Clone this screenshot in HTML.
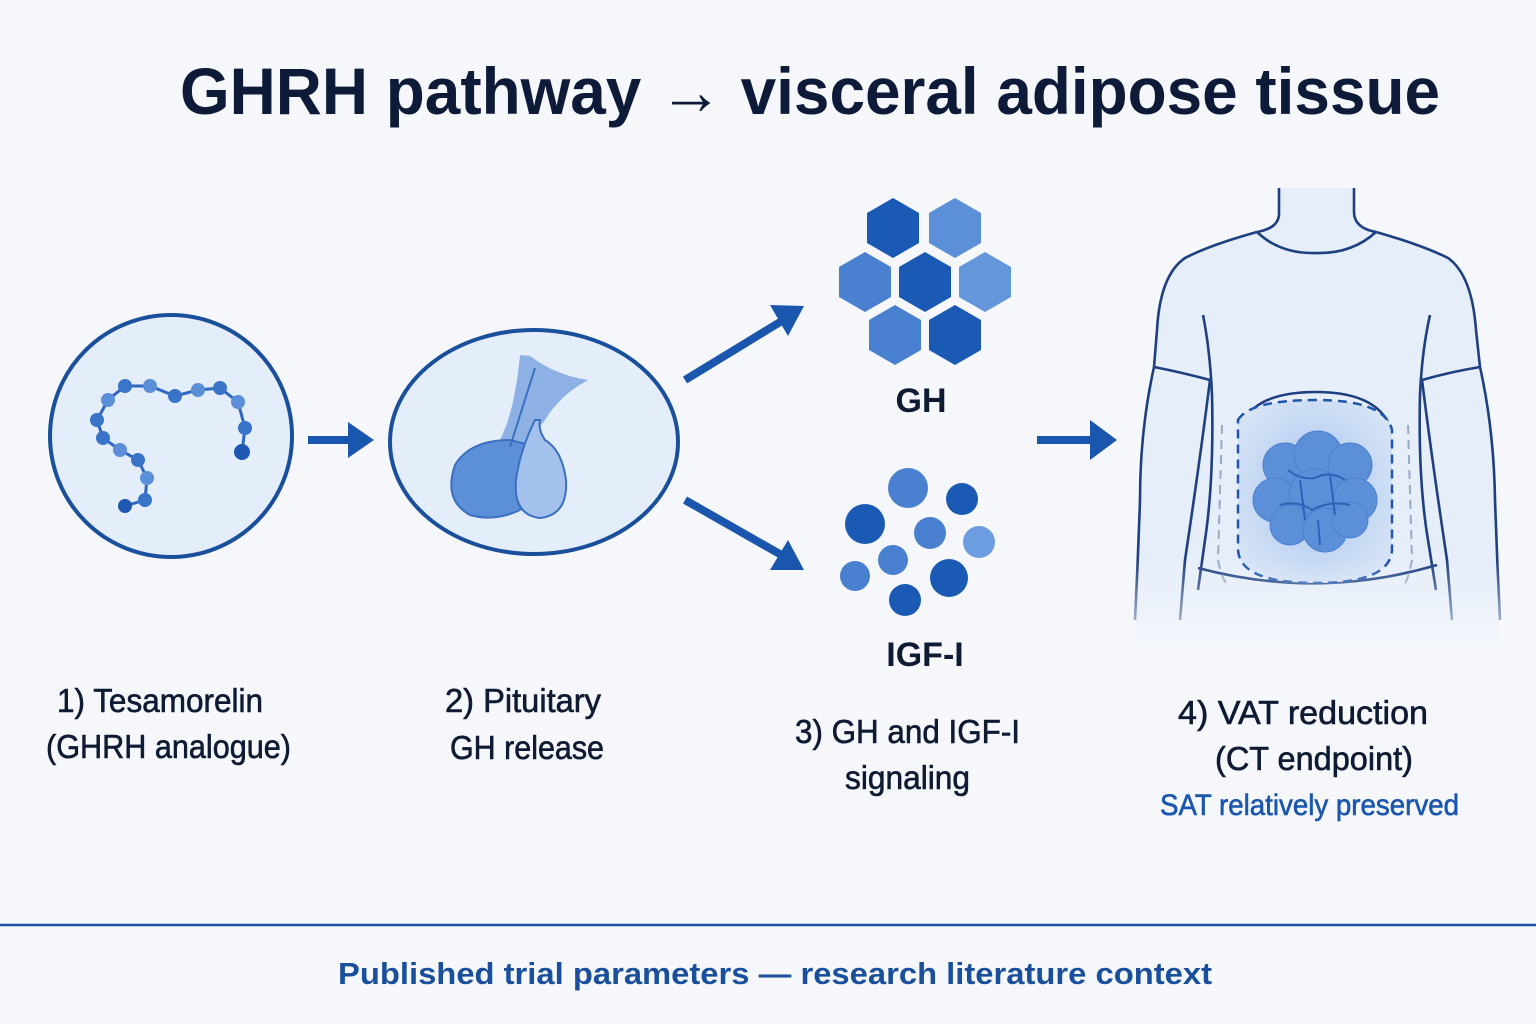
<!DOCTYPE html>
<html><head><meta charset="utf-8"><style>
html,body{margin:0;padding:0;background:#f5f7fb;}
svg{display:block}
.t{font-family:"Liberation Sans",sans-serif;fill:#0f1a33;stroke:#0f1a33;stroke-width:0.6;}
</style></head><body>
<svg width="1536" height="1024" viewBox="0 0 1536 1024" xmlns="http://www.w3.org/2000/svg">
<defs>
<radialGradient id="fat" cx="50%" cy="50%" r="60%"><stop offset="0" stop-color="#a9c4ee"/><stop offset="1" stop-color="#d7e4f7"/></radialGradient>
<linearGradient id="fade" x1="0" y1="0" x2="0" y2="1"><stop offset="0" stop-color="#f5f7fb" stop-opacity="0"/><stop offset="1" stop-color="#f5f7fb" stop-opacity="1"/></linearGradient>
</defs>
<rect width="1536" height="1024" fill="#f5f7fb"/>
<text x="180" y="114" textLength="1260" lengthAdjust="spacingAndGlyphs" font-family="Liberation Sans,sans-serif" font-weight="bold" font-size="66" fill="#0d1a38">GHRH pathway → visceral adipose tissue</text>

<!-- circle 1 -->
<circle cx="171" cy="436" r="121" fill="#e4edfa" stroke="#1a4f9c" stroke-width="4"/>
<polyline points="125,506 145,500 147,478 138,460 120,450 103,438 97,420 108,400 125,386 150,386 175,396 198,390 220,388 238,402 245,428 242,452" fill="none" stroke="#2f68c0" stroke-width="3"/>
<g fill="#3a74c8">
<circle cx="125" cy="506" r="7" fill="#1f58b0"/><circle cx="145" cy="500" r="7"/><circle cx="147" cy="478" r="7" fill="#5b8fd8"/><circle cx="138" cy="460" r="7"/><circle cx="120" cy="450" r="7" fill="#5b8fd8"/><circle cx="103" cy="438" r="7"/><circle cx="97" cy="420" r="7"/><circle cx="108" cy="400" r="7" fill="#5b8fd8"/><circle cx="125" cy="386" r="7"/><circle cx="150" cy="386" r="7" fill="#5b8fd8"/><circle cx="175" cy="396" r="7"/><circle cx="198" cy="390" r="7" fill="#5b8fd8"/><circle cx="220" cy="388" r="7"/><circle cx="238" cy="402" r="7" fill="#5b8fd8"/><circle cx="245" cy="428" r="7"/><circle cx="242" cy="452" r="8" fill="#1f58b0"/>
</g>

<line x1="308" y1="440" x2="352" y2="440" stroke="#1a56ad" stroke-width="8"/>
<polygon points="348,422 374,440 348,458" fill="#1a56ad"/>

<ellipse cx="534" cy="442" rx="144" ry="112" fill="#e4edfa" stroke="#1a4f9c" stroke-width="4"/>
<path d="M520,355 L530,356 Q555,375 588,380 Q560,395 545,420 L525,445 L500,440 Q515,410 520,355Z" fill="#7ea6e0" opacity="0.85"/>
<path d="M510,440 Q470,440 455,465 Q443,500 470,515 Q495,522 520,510 L530,445Z" fill="#5b8fd8" stroke="#3a70c0" stroke-width="2"/>
<path d="M535,420 Q520,450 516,480 Q513,515 540,518 Q568,515 566,480 Q562,450 545,440 Q538,430 540,420Z" fill="#a3c1ec" stroke="#3a70c0" stroke-width="2"/>
<line x1="535" y1="368" x2="510" y2="447" stroke="#3a70c0" stroke-width="2"/>

<line x1="685" y1="380" x2="785" y2="319" stroke="#1a56ad" stroke-width="8"/>
<polygon points="770,305 804,306 788,336" fill="#1a56ad"/>
<line x1="685" y1="500" x2="785" y2="557" stroke="#1a56ad" stroke-width="8"/>
<polygon points="788,540 804,570 770,570" fill="#1a56ad"/>

<g>
<polygon points="893,198 919,213 919,243 893,258 867,243 867,213" fill="#1a5ab5"/>
<polygon points="955,198 981,213 981,243 955,258 929,243 929,213" fill="#5b8fd8"/>
<polygon points="865,252 891,267 891,297 865,312 839,297 839,267" fill="#4a80d0"/>
<polygon points="925,252 951,267 951,297 925,312 899,297 899,267" fill="#1a5ab5"/>
<polygon points="985,252 1011,267 1011,297 985,312 959,297 959,267" fill="#6396da"/>
<polygon points="895,305 921,320 921,350 895,365 869,350 869,320" fill="#4a80d0"/>
<polygon points="955,305 981,320 981,350 955,365 929,350 929,320" fill="#1a5ab5"/>
</g>
<text x="921" y="412" text-anchor="middle" font-family="Liberation Sans,sans-serif" font-weight="bold" font-size="34" fill="#0f1a33">GH</text>

<circle cx="908" cy="488" r="20" fill="#4a80d0"/><circle cx="962" cy="499" r="16" fill="#1a5ab5"/>
<circle cx="865" cy="524" r="20" fill="#1a5ab5"/><circle cx="930" cy="533" r="16" fill="#4a80d0"/>
<circle cx="979" cy="542" r="16" fill="#6b9de0"/><circle cx="893" cy="560" r="15" fill="#4a80d0"/>
<circle cx="855" cy="576" r="15" fill="#4a80d0"/><circle cx="949" cy="578" r="19" fill="#1a5ab5"/>
<circle cx="905" cy="600" r="16" fill="#1a5ab5"/>
<text x="925" y="666" text-anchor="middle" font-family="Liberation Sans,sans-serif" font-weight="bold" font-size="34" fill="#0f1a33">IGF-I</text>

<line x1="1037" y1="440" x2="1094" y2="440" stroke="#1a56ad" stroke-width="8"/>
<polygon points="1090,420 1117,440 1090,460" fill="#1a56ad"/>

<path d="M1279,188 L1279,212 Q1280,228 1257,232 Q1210,245 1185,258 Q1160,275 1157,330 L1154,367 Q1145,420 1140,500 L1135,650 L1500,650 L1497,500 Q1490,420 1480,367 L1476,330 Q1472,275 1448,258 Q1422,245 1376,232 Q1354,228 1354,212 L1354,188" fill="#e6eefa" stroke="none"/>
<g fill="none" stroke="#1e3f80" stroke-width="2.6">
<path d="M1279,188 L1279,212 Q1280,228 1257,232"/>
<path d="M1354,188 L1354,212 Q1354,228 1376,232"/>
<path d="M1257,232 Q1280,254 1316,253 Q1352,254 1376,232"/>
<path d="M1257,232 Q1210,245 1185,258 Q1160,275 1157,330 L1154,367"/>
<path d="M1376,232 Q1422,245 1448,258 Q1472,275 1476,330 L1480,367"/>
<path d="M1154,367 Q1180,372 1210,380"/>
<path d="M1422,380 Q1450,372 1480,367"/>
<path d="M1203,315 Q1210,350 1212,395 Q1214,480 1205,540 L1198,590"/>
<path d="M1430,315 Q1422,350 1420,395 Q1418,480 1428,540 L1436,590"/>
<path d="M1154,367 Q1140,430 1140,500 Q1138,560 1135,620"/>
<path d="M1480,367 Q1494,430 1495,500 Q1497,560 1500,620"/>
<path d="M1210,380 Q1200,460 1185,560 L1180,620"/>
<path d="M1422,380 Q1432,460 1447,560 L1452,620"/>
<path d="M1243,422 Q1258,392 1316,392 Q1372,392 1388,422"/>
<path d="M1198,568 Q1318,600 1437,565"/>
</g>
<path d="M1238,420 Q1250,400 1316,400 Q1385,400 1392,430 L1392,550 Q1390,583 1316,583 Q1240,583 1238,550Z" fill="url(#fat)" stroke="#1e55aa" stroke-width="2.5" stroke-dasharray="9,6"/>
<path d="M1222,425 L1218,560 Q1222,580 1228,585 M1408,425 L1412,560 Q1408,580 1404,585" fill="none" stroke="#9aa8c4" stroke-width="2" stroke-dasharray="9,6"/>
<g fill="#5b8fd8" stroke="#4a80d0">
<circle cx="1285" cy="465" r="22"/><circle cx="1318" cy="455" r="24"/><circle cx="1350" cy="465" r="22"/>
<circle cx="1275" cy="500" r="22"/><circle cx="1315" cy="495" r="26"/><circle cx="1355" cy="500" r="22"/>
<circle cx="1290" cy="525" r="20"/><circle cx="1325" cy="530" r="22"/><circle cx="1350" cy="520" r="18"/>
</g>
<g fill="none" stroke="#2c62b8" stroke-width="2">
<path d="M1288,470 Q1300,480 1315,478 Q1330,470 1345,480"/>
<path d="M1280,505 Q1298,500 1312,510 Q1330,500 1350,505"/>
<path d="M1300,480 L1305,520 M1330,475 L1335,515 M1318,520 L1320,545"/>
</g>
<rect x="1120" y="560" width="400" height="100" fill="url(#fade)"/>

<g class="t" font-size="33" lengthAdjust="spacingAndGlyphs">
<text x="57" y="712" textLength="206" lengthAdjust="spacingAndGlyphs">1) Tesamorelin</text>
<text x="46" y="758" textLength="245" lengthAdjust="spacingAndGlyphs">(GHRH analogue)</text>
<text x="445" y="712" textLength="156" lengthAdjust="spacingAndGlyphs">2) Pituitary</text>
<text x="450" y="759" textLength="154" lengthAdjust="spacingAndGlyphs">GH release</text>
<text x="795" y="743" textLength="225" lengthAdjust="spacingAndGlyphs">3) GH and IGF-I</text>
<text x="845" y="789" textLength="125" lengthAdjust="spacingAndGlyphs">signaling</text>
<text x="1178" y="724" textLength="250" lengthAdjust="spacingAndGlyphs">4) VAT reduction</text>
<text x="1215" y="770" textLength="198" lengthAdjust="spacingAndGlyphs">(CT endpoint)</text>
<text x="1160" y="815" font-size="30" textLength="299" lengthAdjust="spacingAndGlyphs" style="fill:#1a56ad;stroke:#1a56ad">SAT relatively preserved</text>
</g>

<line x1="0" y1="925" x2="1536" y2="925" stroke="#1a4f9c" stroke-width="2.5"/>
<text x="338" y="984" textLength="874" lengthAdjust="spacingAndGlyphs" font-family="Liberation Sans,sans-serif" font-weight="bold" font-size="31" fill="#1a4f9c">Published trial parameters — research literature context</text>
</svg>
</body></html>
